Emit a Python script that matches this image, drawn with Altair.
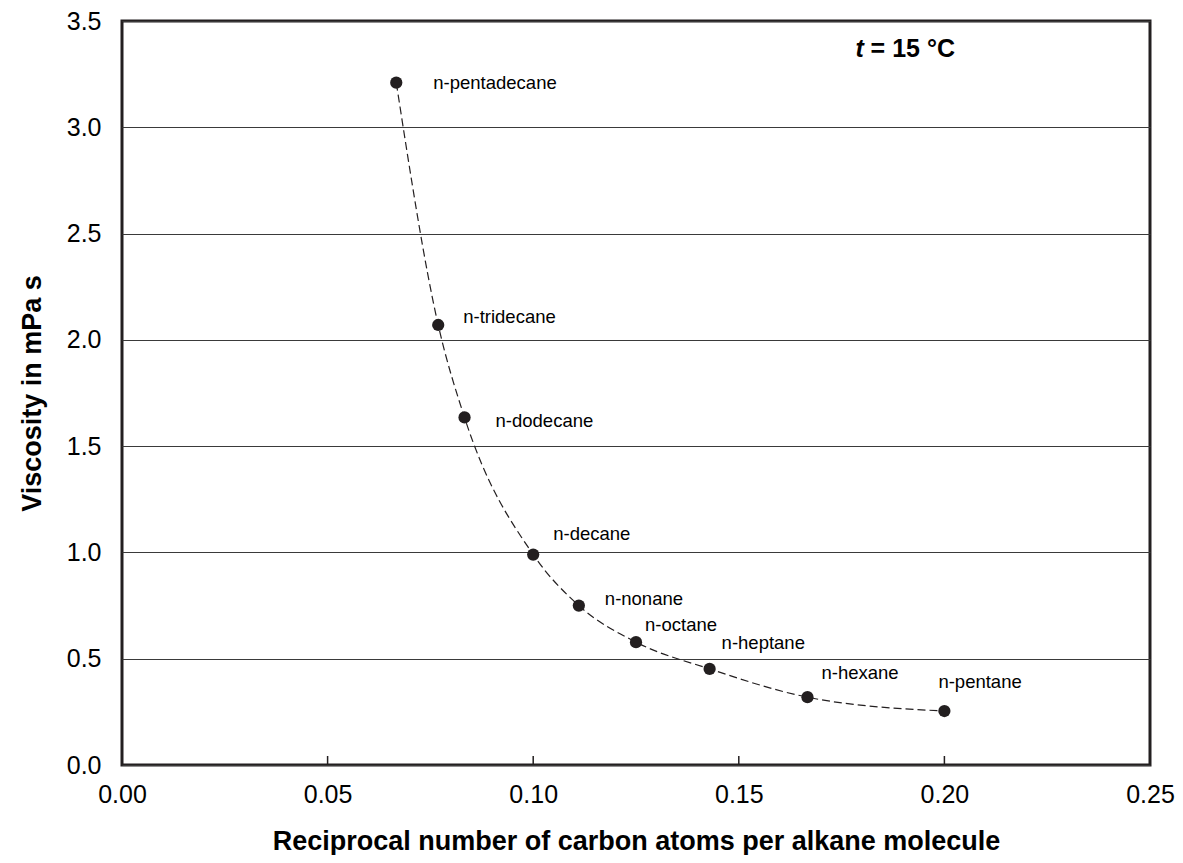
import altair as alt
import pandas as pd

# ---- data ----
alkanes = ["n-pentadecane", "n-tridecane", "n-dodecane", "n-decane", "n-nonane",
           "n-octane", "n-heptane", "n-hexane", "n-pentane"]
reciprocal_carbon = [0.0667, 0.0769, 0.0833, 0.1000, 0.1111, 0.1250, 0.1429, 0.1667, 0.2000]
viscosity = [3.21, 2.07, 1.635, 0.99, 0.75, 0.578, 0.452, 0.319, 0.254]

x_ticks = [0.00, 0.05, 0.10, 0.15, 0.20, 0.25]
y_ticks = [0.0, 0.5, 1.0, 1.5, 2.0, 2.5, 3.0, 3.5]
inner_ticks = [0.05, 0.10, 0.15, 0.20]

x_title = "Reciprocal number of carbon atoms per alkane molecule"
y_title = "Viscosity in mPa s"
note_var = "t"
note_rest = "= 15 °C"
note_pos = {"x": 0.1784, "y": 3.37}

# ---- label placement (style) ----
label_offsets = {
    "n-pentadecane": (37, 0),
    "n-tridecane": (25, -8),
    "n-dodecane": (31, 4),
    "n-decane": (20, -21),
    "n-nonane": (26, -7),
    "n-octane": (9, -17),
    "n-heptane": (12, -26),
    "n-hexane": (14, -24),
    "n-pentane": (-6, -29),
}

FONT = "Liberation Sans"
INK = "#231f20"
W, H = 1028, 744

df = pd.DataFrame({"name": alkanes, "x": reciprocal_carbon, "y": viscosity})

xscale = alt.Scale(domain=[0, 0.25], nice=False, zero=False)
yscale = alt.Scale(domain=[0, 3.5], nice=False, zero=False)

xenc = alt.X("x:Q", scale=xscale,
             axis=alt.Axis(values=x_ticks, format=".2f", title=x_title, grid=False,
                           ticks=False, domain=False, labelPadding=17,
                           labelFlush=False, labelOverlap=False, labelBound=False,
                           titleY=84, titleBaseline="alphabetic"))
yenc = alt.Y("y:Q", scale=yscale,
             axis=alt.Axis(values=y_ticks, format=".1f", title=y_title, grid=True,
                           ticks=False, domain=False, labelPadding=21,
                           labelFlush=False, labelOverlap=False,
                           titleX=-90, titleBaseline="middle"))

base = alt.Chart(df)

line = base.mark_line(interpolate="monotone", color=INK, strokeWidth=1.2,
                      strokeDash=[8, 4]).encode(x=xenc, y=yenc)
points = base.mark_circle(size=150, color=INK, opacity=1).encode(x="x:Q", y="y:Q")

label_layers = []
for name, (dx, dy) in label_offsets.items():
    label_layers.append(
        base.transform_filter(alt.datum.name == name)
        .mark_text(align="left", baseline="middle", dx=dx, dy=dy, font=FONT,
                   fontSize=18.5, color="#000")
        .encode(x="x:Q", y="y:Q", text="name:N")
    )

ticks_df = pd.DataFrame({"x": inner_ticks})
inner = alt.Chart(ticks_df).mark_rule(color=INK, strokeWidth=1.5).encode(
    x="x:Q", y=alt.value(H), y2=alt.value(H - 9))

note_df = pd.DataFrame({"x": [note_pos["x"]], "y": [note_pos["y"]],
                        "a": [note_var], "b": [note_rest]})
note_a = alt.Chart(note_df).mark_text(align="left", baseline="middle", font=FONT,
                                      fontSize=25, fontWeight="bold", fontStyle="italic",
                                      color="#000").encode(x="x:Q", y="y:Q", text="a:N")
note_b = alt.Chart(note_df).mark_text(align="left", baseline="middle", font=FONT,
                                      fontSize=25, fontWeight="bold", dx=15,
                                      color="#000").encode(x="x:Q", y="y:Q", text="b:N")

chart = alt.layer(line, inner, points, *label_layers, note_a, note_b).properties(
    width=W, height=H,
    padding={"left": 114, "top": 13, "right": 25, "bottom": 90},
    autosize=alt.AutoSizeParams(type="none"),
    background="white",
).configure_view(
    stroke=INK, strokeWidth=3
).configure_axis(
    labelFont=FONT, labelFontSize=25, labelColor="#000",
    titleFont=FONT, titleFontSize=27, titleFontWeight="bold", titleColor="#000",
    gridColor="#3a3a3a", gridWidth=1.2, gridOpacity=1,
)

chart.save("out.html", embed_options={"renderer": "svg", "actions": False})
